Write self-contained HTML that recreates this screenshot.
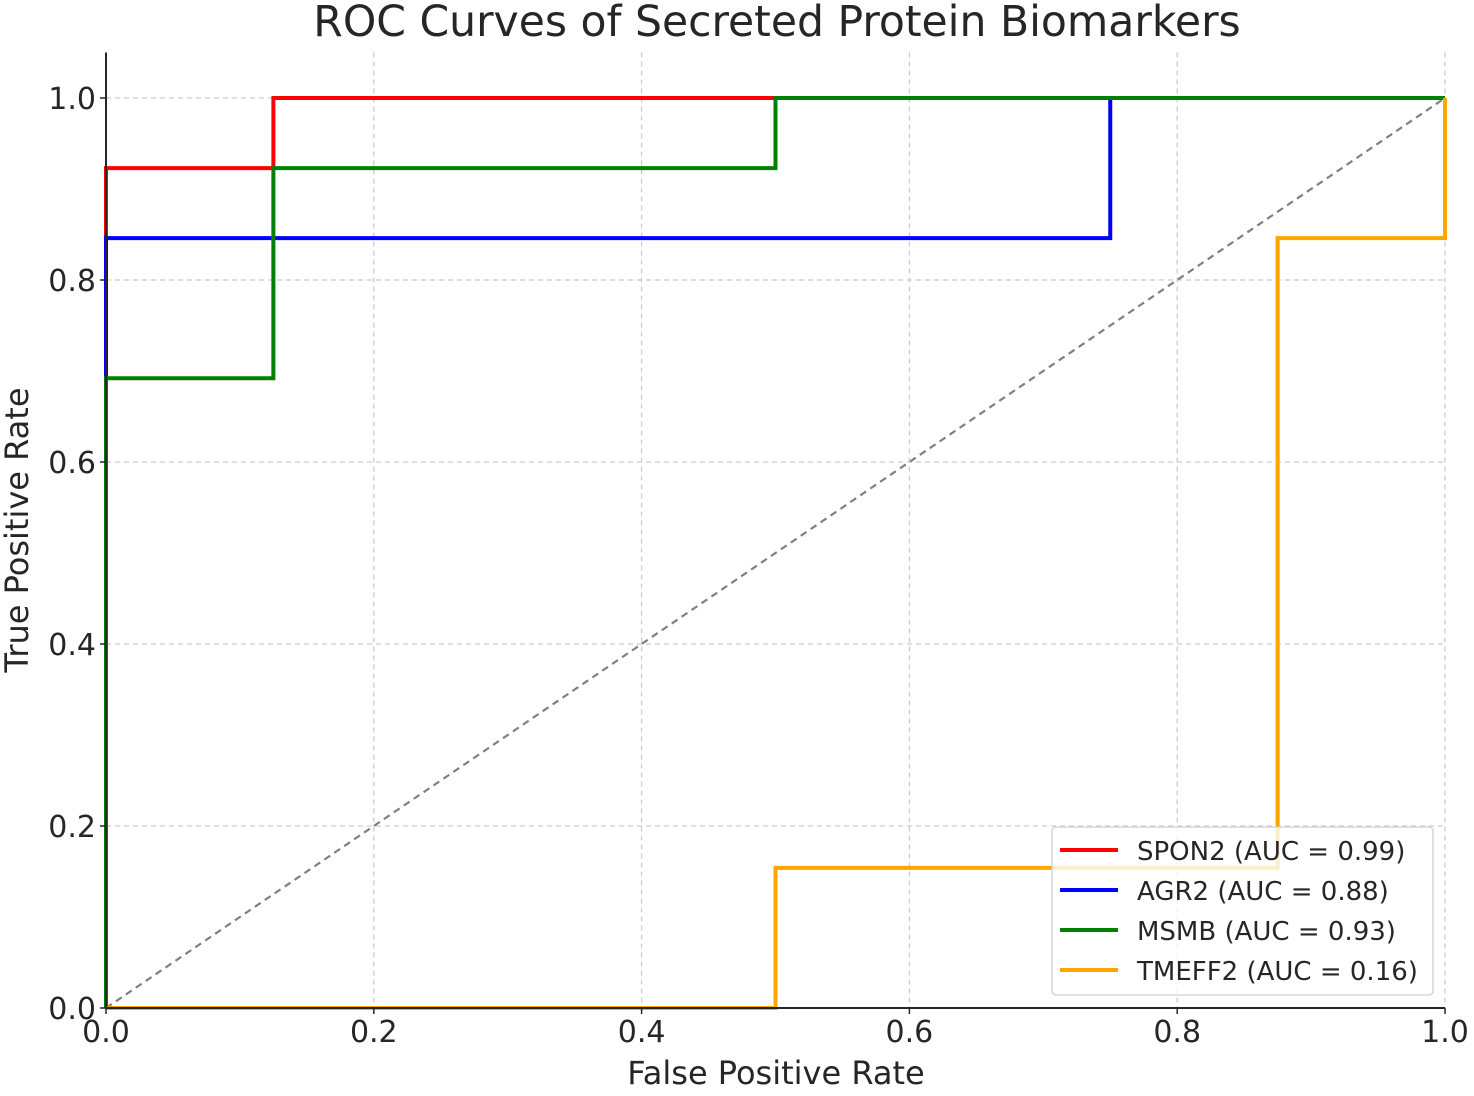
<!DOCTYPE html>
<html><head><meta charset="utf-8"><style>
body{margin:0;background:#fff}
svg text{font-family:"DejaVu Sans","Liberation Sans",sans-serif;fill:#262626}
</style></head><body>
<svg width="1474" height="1091" xmlns="http://www.w3.org/2000/svg" id="chart">
<text x="777" y="36" font-size="42.5" text-anchor="middle">ROC Curves of Secreted Protein Biomarkers</text>
<g id="grid"></g><g id="diag"></g><g id="series"></g><g id="axes"></g><g id="legend"></g>
<text x="776" y="1084" font-size="32" text-anchor="middle">False Positive Rate</text>
<text transform="translate(28,530) rotate(-90)" font-size="32" text-anchor="middle">True Positive Rate</text>
</svg>
<script>
const xTicks=[0,0.2,0.4,0.6,0.8,1.0];
const yTicks=[0,0.2,0.4,0.6,0.8,1.0];
const names=["SPON2","AGR2","MSMB","TMEFF2"];
const aucs=[0.99,0.88,0.93,0.16];
const colors=["#ff0000","#0000ff","#008000","#ffa500"];
const spon2X=[0,0,0.125,0.125,1];
const spon2Y=[0,0.923,0.923,1,1];
const agr2X=[0,0,0.75,0.75,1];
const agr2Y=[0,0.846,0.846,1,1];
const msmbX=[0,0,0.125,0.125,0.5,0.5,1];
const msmbY=[0,0.692,0.692,0.923,0.923,1,1];
const tmeffX=[0,0.5,0.5,0.875,0.875,1,1];
const tmeffY=[0,0,0.154,0.154,0.846,0.846,1];
const seriesX=[spon2X,agr2X,msmbX,tmeffX];
const seriesY=[spon2Y,agr2Y,msmbY,tmeffY];
const X0=106,X1=1445,Y0=1008,YPX=910;
const sx=v=>X0+v*(X1-X0), sy=v=>Y0-v*YPX;
const NS="http://www.w3.org/2000/svg";
function mk(t,a,p){const e=document.createElementNS(NS,t);for(const k in a)e.setAttribute(k,a[k]);p.appendChild(e);return e;}
const grid=document.getElementById('grid'),axes=document.getElementById('axes');
xTicks.forEach(t=>{
 const l=mk('line',{x1:sx(t),x2:sx(t),y1:sy(1.05),y2:Y0,stroke:'#cccccc','stroke-width':1.3,'stroke-dasharray':'5,4'},grid);
 
 
 const tx=mk('text',{x:sx(t),y:Y0+34,'font-size':30,'text-anchor':'middle'},axes);tx.textContent=t.toFixed(1);
 
 
 mk('line',{x1:sx(t),x2:sx(t),y1:Y0,y2:Y0+6,stroke:'#262626','stroke-width':1.5},axes);
});
yTicks.forEach(t=>{
 const l=mk('line',{x1:X0,x2:X1,y1:sy(t),y2:sy(t),stroke:'#cccccc','stroke-width':1.3,'stroke-dasharray':'5,4'},grid);
 
 
 const tx=mk('text',{x:X0-10,y:sy(t)+11,'font-size':30,'text-anchor':'end'},axes);tx.textContent=t.toFixed(1);
 
 
 mk('line',{x1:X0-6,x2:X0,y1:sy(t),y2:sy(t),stroke:'#262626','stroke-width':1.5},axes);
});
const d=mk('line',{x1:sx(0),y1:sy(0),x2:sx(1),y2:sy(1),stroke:'#808080','stroke-width':2.2,'stroke-dasharray':'7,5'},document.getElementById('diag'));


const sg=document.getElementById('series');
seriesX.forEach((xs,i)=>{
 const pts=xs.map((x,j)=>sx(x)+','+sy(seriesY[i][j])).join(' ');
 const p=mk('polyline',{points:pts,fill:'none',stroke:colors[i],'stroke-width':4},sg);
 
 
});
mk('line',{x1:X0,x2:X0,y1:sy(1.05),y2:Y0,stroke:'#262626','stroke-width':2},axes);
mk('line',{x1:X0,x2:X1,y1:Y0,y2:Y0,stroke:'#262626','stroke-width':2},axes);
const lg=document.getElementById('legend');
const box=mk('rect',{x:1052,y:827,width:381,height:168,rx:4,fill:'#fff','fill-opacity':0.8,stroke:'#d0d0d0','stroke-width':1.3},lg);


names.forEach((n,i)=>{
 const y=850+i*40;
 mk('line',{x1:1060,x2:1118,y1:y,y2:y,stroke:colors[i],'stroke-width':4},lg);
 const t=mk('text',{x:1137,y:y+10,'font-size':26},lg);
 t.textContent=n+' (AUC = '+aucs[i].toFixed(2)+')';
 
 
});
</script>
</body></html>
